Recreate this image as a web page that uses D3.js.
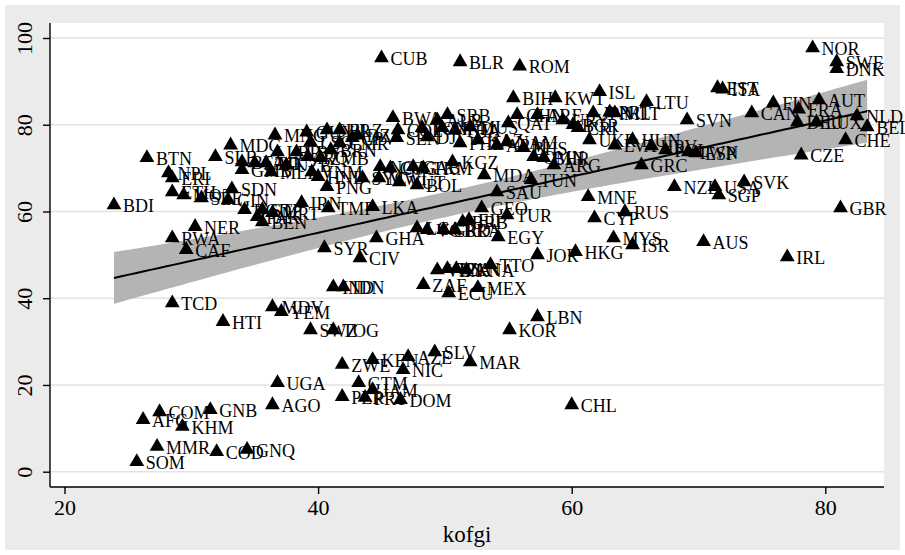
<!DOCTYPE html>
<html>
<head>
<meta charset="utf-8">
<script src="https://cdn.jsdelivr.net/npm/d3@7"></script>
<style>
  body { margin: 0; background: #fff; }
  text { font-family: "Liberation Serif", "Times New Roman", serif; fill: #000; }
</style>
</head>
<body>
<svg width="905" height="555"></svg>
<script>
// country codes, globalisation index (x) and outcome score (y)
let codes = [
  "BDI","BTN","NPL","ERI","ETH","MOZ","SLE","GIN","SDN","BGD",
  "PAK","BEN","MRT","STP","MDG","SLB","BFA","GMB","LAO","TJK",
  "LBR","MNG","MLI","UZB","IRQ","VNM","HND","PNG","GUY","SUR",
  "BLZ","LSO","CMR","CPV","DZA","LBY","ZMB","BRN","BWA","COL",
  "SEN","TON","DJI","ALB","SRB","MKD","THA","MUS","PHL","KAZ",
  "ARM","NAM","BHS","OMN","BHR","ARG","QAT","CHN","ARE","URY",
  "BGR","CRI","JPN","PRT","MLT","UKR","LVA","HUN","HRV","POL",
  "TWN","ESP","GRC","KWT","BIH","ISL","LTU","SVN","EST","ITA",
  "FIN","AUT","CAN","FRA","DEU","LUX","NLD","BEL","CHE","CZE",
  "NOR","SWE","DNK","CUB","BLR","ROM","GBR","IRL","AUS","SVK",
  "USA","SGP","NZL","MNE","CYP","RUS","MYS","ISR","HKG","JOR",
  "TTO","LBN","KOR","CHL","MAR","SLV","AZE","KEN","NIC","ZWE",
  "GTM","PER","PRY","JAM","DOM","UGA","AGO","COM","GNB","AFG",
  "KHM","MMR","COD","GNQ","SOM","TCD","HTI","MDV","YEM","SWZ",
  "TOG","IND","IDN","ZAF","ECU","MEX","VEN","TZA","PAN","KNA",
  "GHA","SYR","CIV","EGY","LCA","VCT","GRD","BRA","BRB","FJI",
  "GEO","TUR","SAU","TUN","MDA","KGZ","TKM","BOL","NGA","COG",
  "GAB","SYC","MWI","VUT","IRN","TMP","LKA","NER","RWA","CAF"
];
let kofgi = [
  23.9,26.5,28.2,28.5,28.5,29.4,30.8,32.9,33.2,34.2,
  35.2,35.6,36.4,35.6,33.1,31.9,34.0,34.0,35.0,35.9,
  36.8,36.6,36.3,37.5,39.2,39.5,40.0,40.7,39.1,40.7,
  41.7,39.4,41.7,42.7,43.1,38.3,40.2,41.0,45.9,46.3,
  46.2,48.2,48.6,49.4,50.2,49.8,50.8,52.0,51.2,52.6,
  54.1,54.9,56.2,57.0,57.8,58.6,55.0,55.7,57.3,59.3,
  60.1,60.5,61.7,63.0,63.4,61.4,63.4,64.8,66.3,67.4,
  69.2,69.8,65.5,58.7,55.4,62.2,65.9,69.1,71.5,71.9,
  75.9,79.5,74.2,77.9,77.8,79.3,82.5,83.3,81.6,78.1,
  79.0,80.9,80.9,45.0,51.2,55.9,81.2,77.0,70.4,73.6,
  71.3,71.6,68.1,61.3,61.8,64.2,63.3,64.8,60.3,57.3,
  53.6,57.3,55.1,60.0,52.0,49.2,47.1,44.3,46.7,41.9,
  43.2,41.9,43.7,44.3,46.5,36.8,36.4,27.5,31.5,26.2,
  29.3,27.3,32.0,34.4,25.7,28.5,32.5,36.4,37.1,39.4,
  41.2,41.2,42.0,48.3,50.3,52.6,49.4,50.2,50.9,51.7,
  44.6,40.5,43.3,54.2,47.8,48.6,49.9,50.8,51.4,51.9,
  52.9,54.9,54.1,56.8,53.1,50.6,48.3,47.8,44.9,45.7,
  47.5,43.5,44.8,46.4,38.7,40.8,44.3,30.3,28.5,29.6
];
let score = [
  61.5,72.4,68.9,67.7,64.5,63.8,63.1,62.7,65.2,60.4,
  58.8,57.6,59.7,60.4,75.3,72.6,71.4,69.6,71.2,71.2,
  73.7,77.6,69.1,70.7,72.6,69.1,68.0,65.7,78.3,78.8,
  78.8,76.0,75.8,77.0,77.6,73.7,72.4,74.2,81.6,78.8,
  77.0,79.3,77.2,81.1,82.3,79.3,78.8,79.5,75.8,76.5,
  75.3,76.0,74.7,72.6,72.4,70.7,80.4,82.3,82.3,81.1,
  80.0,79.3,82.7,82.9,82.7,76.5,75.3,76.5,75.1,74.2,
  73.7,73.5,70.7,86.2,86.2,87.6,85.3,81.1,88.5,88.2,
  85.0,85.7,82.7,83.6,80.6,80.6,82.0,79.5,76.5,73.0,
  97.7,94.5,92.9,95.4,94.5,93.5,60.8,49.5,53.0,66.8,
  65.7,63.8,65.7,63.4,58.5,59.9,53.9,52.3,50.7,50.0,
  47.7,35.7,32.7,15.4,25.3,27.6,26.5,25.8,23.5,24.7,
  20.5,17.3,17.1,18.9,16.6,20.5,15.4,13.8,14.3,12.0,
  10.4,5.8,4.6,5.1,2.3,38.9,34.6,38.0,36.9,32.7,
  32.7,42.6,42.6,43.1,41.2,42.4,46.5,46.8,46.8,46.5,
  53.9,51.6,49.3,54.1,56.2,55.8,55.8,55.8,57.6,58.1,
  60.8,59.2,64.5,67.3,68.4,71.4,70.0,66.1,70.3,70.0,
  70.3,67.7,67.7,66.8,62.0,60.8,61.1,56.5,53.9,51.2
];
let xTicks = [20, 40, 60, 80];
let yTicks = [0, 20, 40, 60, 80, 100];

let points = codes.map((c, i) => ({code: c, x: kofgi[i], y: score[i]}));

let svg = d3.select("svg");

// outer graph region + white plot region
svg.append("rect").attr("x", 5).attr("y", 5).attr("width", 895).attr("height", 545).attr("fill", "#ebebeb");
svg.append("rect").attr("x", 50).attr("y", 23).attr("width", 834).attr("height", 464).attr("fill", "#fff");

let x = d3.scaleLinear().domain([20, 80]).range([64.5, 825.3]);
let y = d3.scaleLinear().domain([0, 100]).range([471.7, 38]);

// gridlines
svg.append("g")
  .selectAll("line")
  .data(yTicks)
  .join("line")
  .attr("x1", 50).attr("x2", 884)
  .attr("y1", d => y(d)).attr("y2", d => y(d))
  .attr("stroke", "#e2e2e2")
  .attr("stroke-width", 1.6);

// linear fit with 95% CI (like lfitci)
let n = points.length;
let mx = d3.mean(kofgi), my = d3.mean(score);
let sxx = d3.sum(kofgi, v => (v - mx) ** 2);
let sxy = d3.sum(points, d => (d.x - mx) * (d.y - my));
let slope = sxy / sxx;
let icpt = my - slope * mx;
let s2 = d3.sum(points, d => (d.y - icpt - slope * d.x) ** 2) / (n - 2);
let tcrit = 1.974;
let [xmin, xmax] = d3.extent(kofgi);
let fit = d3.range(101).map(i => {
  let v = xmin + (xmax - xmin) * i / 100;
  let se = Math.sqrt(s2 * (1 / n + (v - mx) ** 2 / sxx));
  let yh = icpt + slope * v;
  return {x: v, y: yh, lo: yh - tcrit * se, hi: yh + tcrit * se};
});

svg.append("path")
  .datum(fit)
  .attr("fill", "#b4b4b4")
  .attr("d", d3.area().x(d => x(d.x)).y0(d => y(d.lo)).y1(d => y(d.hi)));

svg.append("path")
  .datum(fit)
  .attr("fill", "none")
  .attr("stroke", "#000")
  .attr("stroke-width", 2)
  .attr("d", d3.line().x(d => x(d.x)).y(d => y(d.y)));

// markers and labels
let node = svg.append("g")
  .selectAll("g")
  .data(points)
  .join("g")
  .attr("transform", d => `translate(${x(d.x)},${y(d.y)})`);

node.append("path")
  .attr("d", d3.symbol(d3.symbolTriangle).size(95))
  .attr("fill", "#000");

node.append("text")
  .text(d => d.code)
  .attr("x", 9)
  .attr("y", 7)
  .attr("font-size", 18);

// axes
let xAxis = svg.append("g")
  .attr("transform", "translate(0,487)")
  .call(d3.axisBottom(x).tickValues(xTicks).tickSize(7).tickSizeOuter(0));
xAxis.select(".domain").remove();
xAxis.selectAll("line").attr("stroke", "#000").attr("stroke-width", 1.4);
xAxis.selectAll("text")
  .attr("y", 28).attr("dy", 0)
  .attr("font-size", 22)
  .attr("font-family", "Liberation Serif")
  .attr("fill", "#000");

let yAxis = svg.append("g")
  .attr("transform", "translate(50,0)")
  .call(d3.axisLeft(y).tickValues(yTicks).tickSize(7).tickSizeOuter(0));
yAxis.select(".domain").remove();
yAxis.selectAll("line").attr("stroke", "#000").attr("stroke-width", 1.4);
yAxis.selectAll("text")
  .attr("transform", "rotate(-90)")
  .attr("x", 0).attr("y", -18).attr("dy", 0)
  .attr("text-anchor", "middle")
  .attr("font-size", 22)
  .attr("font-family", "Liberation Serif")
  .attr("fill", "#000");

svg.append("line").attr("x1", 50).attr("x2", 50).attr("y1", 23).attr("y2", 487)
  .attr("stroke", "#000").attr("stroke-width", 1.4);
svg.append("line").attr("x1", 50).attr("x2", 884).attr("y1", 487).attr("y2", 487)
  .attr("stroke", "#000").attr("stroke-width", 1.4);

svg.append("text")
  .attr("x", 467).attr("y", 542)
  .attr("text-anchor", "middle")
  .attr("font-size", 23)
  .text("kofgi");
</script>
</body>
</html>
